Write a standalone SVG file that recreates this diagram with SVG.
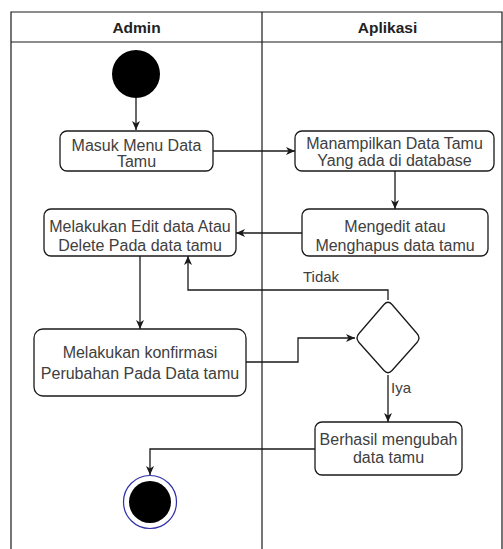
<svg xmlns="http://www.w3.org/2000/svg" width="503" height="549" viewBox="0 0 503 549">
  <style>
    .lane { fill: none; stroke: #1a1a1a; stroke-width: 1.2; }
    .head { font-family: "Liberation Sans", Arial, sans-serif; font-size: 15.5px; font-weight: bold; fill: #222; text-anchor: middle; }
    .act { fill: #fff; stroke: #1a1a1a; stroke-width: 1.3; }
    .lbl { font-family: "Liberation Sans", Arial, sans-serif; font-size: 16px; fill: #404040; text-anchor: middle; }
    .guard { font-family: "Liberation Sans", Arial, sans-serif; font-size: 15px; fill: #404040; }
    .flow { fill: none; stroke: #1a1a1a; stroke-width: 1.3; marker-end: url(#arrow); }
  </style>
  <defs>
    <marker id="arrow" markerUnits="userSpaceOnUse" markerWidth="10" markerHeight="10" refX="9" refY="5" orient="auto">
      <path d="M0,1 L9,5 L0,9 L2.5,5 z" fill="#1a1a1a"/>
    </marker>
  </defs>

  <rect width="503" height="549" fill="#fff"/>

  <!-- swimlane pool -->
  <g id="pool">
    <path class="lane" d="M11,549 V12 H502 V549"/>
    <path class="lane" d="M11,42 H502"/>
    <path class="lane" d="M262,12 V549"/>
    <text class="head" x="136.5" y="33">Admin</text>
    <text class="head" x="387.5" y="33">Aplikasi</text>
  </g>

  <!-- connectors -->
  <g id="connectors">
    <path class="flow" d="M136,98 V130"/>
    <path class="flow" d="M213,151 H295"/>
    <path class="flow" d="M395,171 V209"/>
    <path class="flow" d="M302,233 H236"/>
    <path class="flow" d="M140,256 V329"/>
    <path class="flow" d="M246,362 H298 V338 H355"/>
    <path class="flow" d="M388,300 V290 H188 V256"/>
    <path class="flow" d="M388,375 V422"/>
    <path class="flow" d="M315,449 H150 V475"/>
    <text class="guard" x="303" y="282">Tidak</text>
    <text class="guard" x="391" y="393">Iya</text>
  </g>

  <g id="start">
    <circle cx="136" cy="74" r="24" fill="#000"/>
  </g>

  <g id="masuk-menu">
    <rect class="act" x="60" y="131" width="153" height="40" rx="7"/>
    <text class="lbl" x="136.5" y="151">Masuk Menu Data</text>
    <text class="lbl" x="136.5" y="167">Tamu</text>
  </g>

  <g id="tampil-data">
    <rect class="act" x="295" y="131" width="199" height="40" rx="7"/>
    <text class="lbl" x="394.5" y="149">Manampilkan Data Tamu</text>
    <text class="lbl" x="394.5" y="166">Yang ada di database</text>
  </g>

  <g id="edit-hapus">
    <rect class="act" x="302" y="209" width="186" height="47" rx="7"/>
    <text class="lbl" x="395" y="232">Mengedit atau</text>
    <text class="lbl" x="395" y="251">Menghapus data tamu</text>
  </g>

  <g id="edit-delete">
    <rect class="act" x="44" y="209" width="192" height="47" rx="7"/>
    <text class="lbl" x="140" y="232">Melakukan Edit data Atau</text>
    <text class="lbl" x="140" y="251">Delete Pada data tamu</text>
  </g>

  <g id="konfirmasi">
    <rect class="act" x="34" y="329" width="212" height="67" rx="9"/>
    <text class="lbl" x="140" y="358">Melakukan konfirmasi</text>
    <text class="lbl" x="140" y="379">Perubahan Pada Data tamu</text>
  </g>

  <g id="keputusan">
    <path class="act" d="M384,304.5 Q388,300 392,304.5 L417,333.5 Q421,338 417,342.5 L392,370.5 Q388,375 384,370.5 L359,342.5 Q355,338 359,333.5 Z"/>
  </g>

  <g id="berhasil">
    <rect class="act" x="315" y="422" width="147" height="53" rx="7"/>
    <text class="lbl" x="388.5" y="445">Berhasil mengubah</text>
    <text class="lbl" x="388.5" y="463">data tamu</text>
  </g>

  <g id="end">
    <circle cx="150" cy="502" r="26.5" fill="#fff" stroke="#2f2fa8" stroke-width="1.2"/>
    <circle cx="150" cy="502" r="21" fill="#000"/>
  </g>
</svg>
